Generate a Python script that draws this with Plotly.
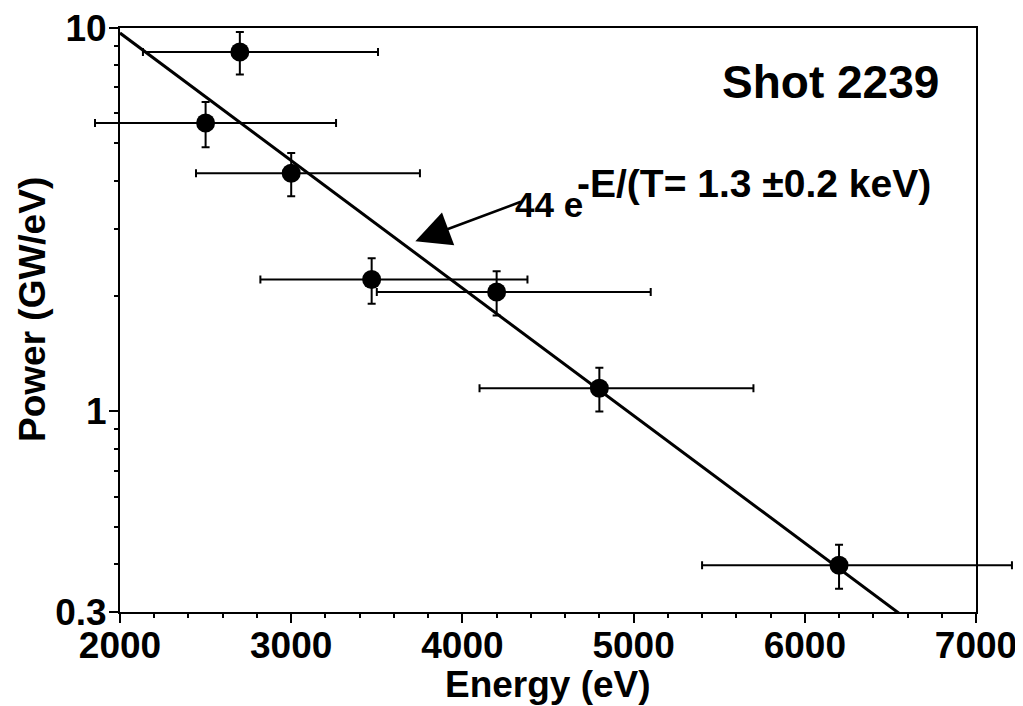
import plotly.graph_objects as go

# Data
energy_eV = [2700, 2500, 3000, 3470, 4200, 4800, 6200]
power_GW_per_eV = [8.66, 5.65, 4.18, 2.21, 2.05, 1.15, 0.397]
power_err = [1.1, 0.76, 0.54, 0.30, 0.27, 0.15, 0.052]
energy_err_minus = [566, 646, 556, 650, 700, 700, 800]
energy_err_plus = [807, 762, 752, 910, 900, 900, 1010]

# Exponential fit line (endpoints)
fit_E = [2000, 7000]
fit_P = [9.7, 0.211]

x_ticks = [2000, 3000, 4000, 5000, 6000, 7000]
y_ticks = [0.3, 1, 10]
y_tick_text = ["0.3", "1", "10"]
y_minor = [0.4, 0.5, 0.6, 0.7, 0.8, 0.9, 2, 3, 4, 5, 6, 7, 8, 9]

FONT = "Liberation Sans, Arial, sans-serif"

# ---- geometry (pixels, in figure coordinates; the page adds an 8px body margin) ----
OFF = 8
W, H = 1023 - OFF, 706 - OFF
AX_L, AX_R = 120 - OFF, 976 - OFF       # pixel edges of the framed axes box
AX_T, AX_B = 28 - OFF, 612 - OFF
ML, MR = 80 - OFF, 5
MT, MB = AX_T, H - AX_B
inner_w = W - ML - MR
x_dom = [(AX_L - ML) / inner_w, (AX_R - ML) / inner_w]
px_per_eV = (AX_R - AX_L) / (x_ticks[-1] - x_ticks[0])
# wide, invisible companion x-axis with identical scale, so error bars may run past the frame
x2_range = [x_ticks[0] - (AX_L - ML) / px_per_eV, x_ticks[-1] + (W - MR - AX_R) / px_per_eV]

fig = go.Figure()

fig.add_trace(go.Scatter(
    x=fit_E, y=fit_P, mode="lines",
    line=dict(color="black", width=3),
    showlegend=False, hoverinfo="skip",
    xaxis="x", yaxis="y",
))

fig.add_trace(go.Scatter(
    x=energy_eV, y=power_GW_per_eV, mode="markers",
    marker=dict(color="black", size=19, line=dict(width=0)),
    error_y=dict(type="data", array=power_err, color="black", thickness=2, width=4),
    error_x=dict(type="data", symmetric=False, array=energy_err_plus,
                 arrayminus=energy_err_minus, color="black", thickness=2, width=4),
    showlegend=False,
    xaxis="x2", yaxis="y",
))

fig.update_layout(
    width=W, height=H,
    margin=dict(l=ML, r=MR, t=MT, b=MB),
    paper_bgcolor="white", plot_bgcolor="rgba(0,0,0,0)",
    font=dict(family=FONT, color="black"),
    xaxis=dict(
        domain=x_dom,
        range=[x_ticks[0], x_ticks[-1]],
        tickvals=x_ticks,
        ticktext=["<b>%d</b>" % v for v in x_ticks],
        tickfont=dict(size=37, family=FONT),
        ticks="outside", ticklen=9, tickwidth=2, tickcolor="black",
        ticklabelstandoff=-9, ticklabeloverflow="allow",
        minor=dict(dtick=200, ticks="outside", ticklen=4, tickwidth=1.5, tickcolor="black"),
        showline=True, linecolor="black", linewidth=2, mirror=True,
        showgrid=False, zeroline=False, automargin=False,
        anchor="y",
    ),
    xaxis2=dict(
        domain=[0, 1], range=x2_range, visible=False, anchor="y",
        showgrid=False, zeroline=False, automargin=False,
    ),
    yaxis=dict(
        type="log",
        range=[-0.522879, 1.0000001],
        tickvals=y_ticks,
        ticktext=["<b>%s</b>" % t for t in y_tick_text],
        tickfont=dict(size=37, family=FONT),
        ticks="outside", ticklen=9, tickwidth=2, tickcolor="black",
        ticklabelstandoff=-5, ticklabeloverflow="allow",
        minor=dict(tickvals=y_minor, ticks="outside", ticklen=4, tickwidth=1.5, tickcolor="black"),
        showline=True, linecolor="black", linewidth=2, mirror=True,
        showgrid=False, zeroline=False, automargin=False,
        anchor="x",
    ),
)

plot_h = H - MT - MB

def px_to_paper_x(px):
    return (px - OFF - ML) / inner_w

def px_to_paper_y(py):
    return (AX_B - (py - OFF)) / plot_h

# Axis titles
fig.add_annotation(
    xref="paper", yref="paper", x=px_to_paper_x(548), y=px_to_paper_y(684),
    text="<b>Energy (eV)</b>", showarrow=False,
    font=dict(size=37, family=FONT, color="black"),
    xanchor="center", yanchor="middle",
)
fig.add_annotation(
    xref="paper", yref="paper", x=px_to_paper_x(32), y=px_to_paper_y(310),
    text="<b>Power (GW/eV)</b>", showarrow=False, textangle=-90,
    font=dict(size=37, family=FONT, color="black"),
    xanchor="center", yanchor="middle",
)

# Label inside the plot
fig.add_annotation(
    xref="paper", yref="paper", x=px_to_paper_x(830), y=px_to_paper_y(82),
    text="<b>Shot 2239</b>", showarrow=False,
    font=dict(size=46, family=FONT, color="black"),
    xanchor="center", yanchor="middle",
)

# Fit label: "44 e" and its exponent (y given in log10 units on the log axis)
fig.add_annotation(
    x=4716, y=0.540, xref="x", yref="y",
    text="<b>44 e</b>", showarrow=False,
    font=dict(size=35, family=FONT, color="black"),
    xanchor="right", yanchor="middle",
)
fig.add_annotation(
    x=4658, y=0.594, xref="x", yref="y",
    text="<b>-E/(T= 1.3 ±0.2 keV)</b>", showarrow=False,
    font=dict(size=39, family=FONT, color="black"),
    xanchor="left", yanchor="middle",
)

# Arrow pointing to the fit line
fig.add_annotation(
    x=3725, y=0.444, xref="x", yref="y",
    ax=107, ay=-40, axref="pixel", ayref="pixel",
    text="", showarrow=True,
    arrowhead=2, arrowsize=2.8, arrowwidth=2.5, arrowcolor="black",
    standoff=0,
)

fig.write_html("out.html")
